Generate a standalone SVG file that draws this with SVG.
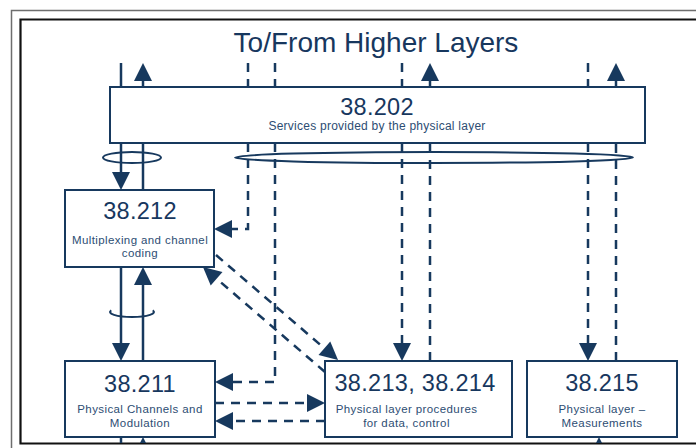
<svg xmlns="http://www.w3.org/2000/svg" width="696" height="448" viewBox="0 0 696 448">
<style>
  .box{fill:#ffffff;stroke:#17395e;stroke-width:2}
  .ln{fill:none;stroke:#17395e;stroke-width:2.5}
  .ds{fill:none;stroke:#17395e;stroke-width:2.5;stroke-dasharray:9 7}
  .el{fill:none;stroke:#17395e;stroke-width:2}
  .num{font-family:"Liberation Sans",Arial,sans-serif;font-size:23.5px;fill:#17375e;text-anchor:middle;letter-spacing:0.3px}
  .sub{font-family:"Liberation Sans",Arial,sans-serif;font-size:11.5px;fill:#2d4d73;text-anchor:middle;letter-spacing:0.4px}
  .ttl{font-family:"Liberation Sans",Arial,sans-serif;font-size:28px;fill:#17375e;text-anchor:middle}
</style>
<defs>
  <marker id="ah" markerUnits="userSpaceOnUse" markerWidth="18" markerHeight="18" refX="0" refY="9" orient="auto" overflow="visible">
    <path d="M0,0 L18,9 L0,18 z" fill="#17395e"/>
  </marker>
  <clipPath id="frame"><rect x="20" y="19" width="676" height="424"/></clipPath>
</defs>
<rect x="0" y="0" width="696" height="448" fill="#ffffff"/>
<!-- frame -->
<path d="M11.5,448 V10.5 H696" fill="none" stroke="#6e6e6e" stroke-width="1.5"/>
<path d="M696,19.5 H20.5 V443.5 H696" fill="none" stroke="#111111" stroke-width="2.2"/>

<text class="ttl" x="376" y="52">To/From Higher Layers</text>

<g id="connectors" clip-path="url(#frame)">
  <!-- top, above 38.202 -->
  <path class="ln" d="M121,63 V87"/>
  <path class="ln" d="M143,87 V81" marker-end="url(#ah)"/>
  <path class="ds" d="M248,63 V87"/>
  <path class="ds" d="M275,63 V87"/>
  <path class="ds" d="M402,63 V87"/>
  <path class="ln" d="M430,87 V81" marker-end="url(#ah)"/>
  <path class="ds" d="M588,63 V87"/>
  <path class="ln" d="M616,87 V81" marker-end="url(#ah)"/>
  <!-- 38.202 to 38.212 -->
  <path class="ln" d="M121,143 V172" marker-end="url(#ah)"/>
  <path class="ln" d="M143,190 V143"/>
  <!-- dashed from 38.202 -->
  <path class="ds" d="M248,143 V229 H232" marker-end="url(#ah)"/>
  <path class="ds" d="M275,143 V382 H233" marker-end="url(#ah)"/>
  <path class="ds" d="M402,143 V343" marker-end="url(#ah)"/>
  <path class="ds" d="M430,361 V143"/>
  <path class="ds" d="M588,143 V343" marker-end="url(#ah)"/>
  <path class="ds" d="M616,361 V143"/>
  <!-- ellipses -->
  <ellipse class="el" cx="132" cy="157.5" rx="29" ry="5.5"/>
  <ellipse class="el" cx="434" cy="157.5" rx="199" ry="5.5"/>
  <!-- 38.212 to 38.211 -->
  <path class="ln" d="M121,267 V343" marker-end="url(#ah)"/>
  <path class="ln" d="M143,361 V285" marker-end="url(#ah)"/>
  <path class="el" d="M111.3,310.3 A22,5 0 1,0 152.7,310.3"/>
  <!-- diagonals -->
  <path class="ds" d="M216,255 L324.4,348.3" marker-end="url(#ah)"/>
  <path class="ds" d="M325,372 L216.6,278.7" marker-end="url(#ah)"/>
  <!-- 38.211 to 38.213 -->
  <path class="ds" d="M215,403 H307" marker-end="url(#ah)"/>
  <path class="ds" d="M325,421 H233" marker-end="url(#ah)"/>
  <!-- below -->
  <path class="ln" d="M121,437 V448"/>
  <path class="ln" d="M143,470 V455" marker-end="url(#ah)"/>
  <path class="ln" d="M599,470 V455" marker-end="url(#ah)"/>
</g>

<g id="n38202">
  <rect class="box" x="110" y="87" width="535" height="56"/>
  <text class="num" x="377" y="115">38.202</text>
  <text class="sub" x="377" y="130" style="font-size:12px;letter-spacing:0.25px">Services provided by the physical layer</text>
</g>
<g id="n38212">
  <rect class="box" x="65" y="190" width="149" height="77"/>
  <text class="num" x="140" y="219">38.212</text>
  <text class="sub" x="140" y="244">Multiplexing and channel</text>
  <text class="sub" x="140" y="257">coding</text>
</g>
<g id="n38211">
  <rect class="box" x="65" y="361" width="150" height="76"/>
  <text class="num" x="140" y="392">38.211</text>
  <text class="sub" x="140" y="413">Physical Channels and</text>
  <text class="sub" x="140" y="427">Modulation</text>
</g>
<g id="n38213">
  <rect class="box" x="325" y="361" width="187" height="76"/>
  <text class="num" x="415" y="391">38.213, 38.214</text>
  <text class="sub" x="406.5" y="413">Physical layer procedures</text>
  <text class="sub" x="406.5" y="427">for data, control</text>
</g>
<g id="n38215">
  <rect class="box" x="527" y="361" width="150" height="76"/>
  <text class="num" x="602" y="391">38.215</text>
  <text class="sub" x="602" y="413">Physical layer –</text>
  <text class="sub" x="602" y="427">Measurements</text>
</g>
</svg>
